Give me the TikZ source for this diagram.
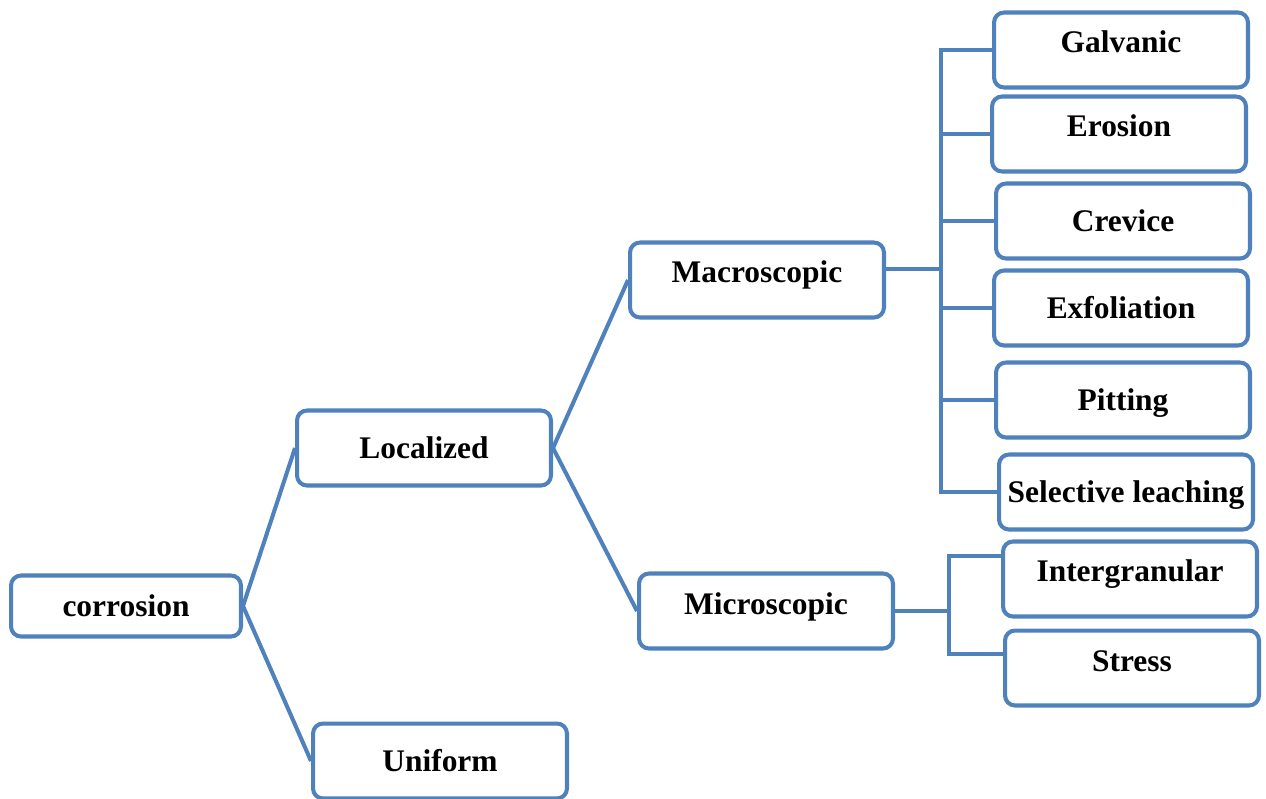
\documentclass[tikz,border=0pt]{standalone}
\usepackage{fontspec}
\setmainfont{Liberation Serif}
\usepackage{tikz}
\definecolor{boxblue}{RGB}{79,129,189}
\tikzset{
  box/.style={draw=boxblue,line width=2.3pt,rounded corners=0.2cm,fill=white,
    minimum width=5.08cm,minimum height=1.5cm,inner sep=0pt,
    text height=12.4pt,text depth=1pt,
    font=\bfseries\fontsize{17.9}{20}\selectfont},
  raised/.style={text depth=9pt},
  link/.style={draw=boxblue,line width=2.3pt}
}

\begin{document}
\begin{tikzpicture}[x=0.02cm,y=-0.02cm]
\useasboundingbox (0,0) rectangle (1266,798);
\node[box,minimum width=4.6cm,minimum height=1.22cm] (corr) at (126,606) {corrosion};
\node[box] (local) at (424,448) {Localized};
\node[box] (unif) at (440,761) {Uniform};
\node[box,raised] (macro) at (757,280) {Macroscopic};
\node[box,raised] (micro) at (766,611) {Microscopic};
\node[box,raised] (galv) at (1121,50) {Galvanic};
\node[box,raised] (eros) at (1119,134) {Erosion};
\node[box] (crev) at (1123,221) {Crevice};
\node[box] (exfo) at (1121,308) {Exfoliation};
\node[box] (pitt) at (1123,400) {Pitting};
\node[box] (sele) at (1126,492) {Selective leaching};
\node[box,raised] (inter) at (1130,579) {Intergranular};
\node[box,raised] (stress) at (1132,668) {Stress};
\draw[link] (corr.east) -- (local.west);
\draw[link] (corr.east) -- (unif.west);
\draw[link] (local.east) -- (macro.west);
\draw[link] (local.east) -- (micro.west);
\draw[link] (macro.5) -- ++(55,0) coordinate (macj);
\foreach \n in {galv,eros,crev,exfo,pitt,sele}
  \draw[link] (macj) |- (\n.west);
\draw[link] (micro.east) -- ++(54,0) coordinate (micj);
\draw[link] (micj) |- (inter.170);
\draw[link] (micj) |- (stress.174);
\end{tikzpicture}
\end{document}
